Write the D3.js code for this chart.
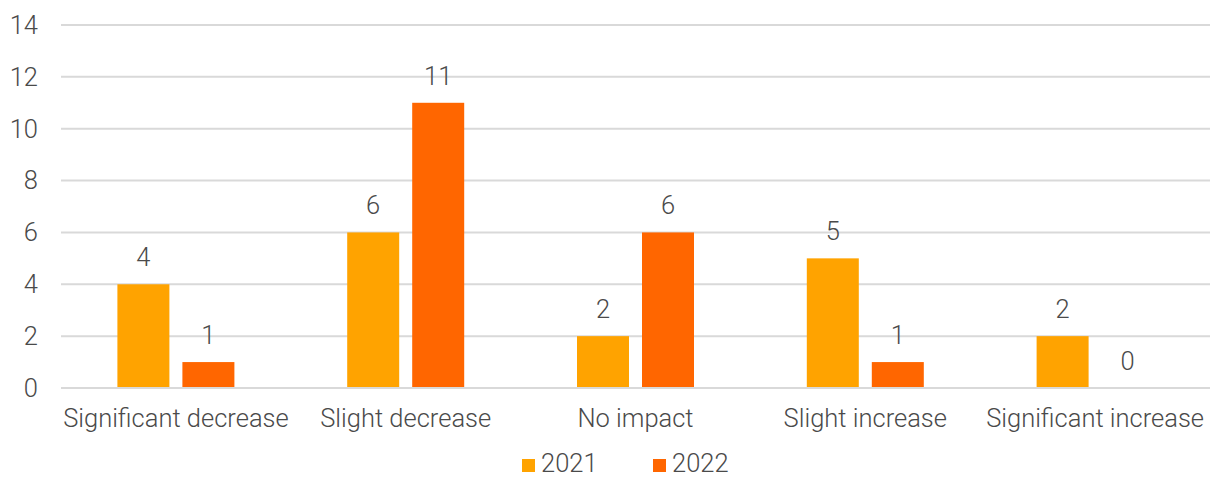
<!DOCTYPE html>
<html><head><meta charset="utf-8">
<script src="https://cdn.jsdelivr.net/npm/d3@7"></script>
<style>
html,body{margin:0;padding:0;background:#fff;}
svg text{font-family:"Roboto",sans-serif;font-weight:300;fill:#4a4a4a;}
</style></head>
<body><svg id="c" width="1210" height="478"></svg>
<script>
const categories = ["Significant decrease","Slight decrease","No impact","Slight increase","Significant increase"];
const seriesNames = ["2021","2022"];
const values2021 = [4,6,2,5,2];
const values2022 = [1,11,6,1,0];
const yTicks = [0,2,4,6,8,10,12,14];
const colors = ["#FFA300","#FF6600"];

const svg = d3.select("#c");
const FS = 25.5;
const y = d3.scaleLinear().domain([0,14]).range([388,25]);
const x0 = d3.scaleBand().domain(categories).range([61,1210]);
const x1 = d3.scaleBand().domain(seriesNames).range([0,117]).paddingInner(0.2);
const data = categories.map((c,i)=>({c, v:[values2021[i], values2022[i]]}));

// gridlines
svg.append("g").selectAll("line").data(yTicks).join("line")
  .attr("x1",61).attr("x2",1210).attr("y1",d=>y(d)).attr("y2",d=>y(d))
  .attr("stroke","#d9d9d9").attr("stroke-width",2);
// y axis labels
svg.append("g").selectAll("text").data(yTicks).join("text")
  .attr("x",38).attr("y",d=>y(d)).attr("dy","0.35em").attr("text-anchor","end")
  .attr("font-size",FS).text(d=>d);

const g = svg.append("g").selectAll("g").data(data).join("g")
  .attr("transform",d=>`translate(${x0(d.c)+x0.bandwidth()/2-58.5},0)`);
g.selectAll("rect").data(d=>d.v.map((v,j)=>({s:seriesNames[j],v,j}))).join("rect")
  .attr("x",d=>x1(d.s)).attr("width",x1.bandwidth())
  .attr("y",d=>y(d.v)).attr("height",d=>Math.max(0,y(0)-y(d.v)-1))
  .attr("fill",d=>colors[d.j]);
g.selectAll("text").data(d=>d.v.map((v,j)=>({s:seriesNames[j],v,j}))).join("text")
  .attr("x",d=>x1(d.s)+x1.bandwidth()/2).attr("y",d=>y(d.v)-18)
  .attr("text-anchor","middle").attr("font-size",FS).text(d=>d.v);

// x labels
svg.append("g").selectAll("text").data(categories).join("text")
  .attr("x",d=>x0(d)+x0.bandwidth()/2).attr("y",427)
  .attr("text-anchor","middle").attr("font-size",FS).text(d=>d);

// legend
const lx = [522,653];
const lg = svg.append("g").selectAll("g").data(seriesNames).join("g")
  .attr("transform",(d,i)=>`translate(${lx[i]},0)`);
lg.append("rect").attr("x",0).attr("y",459).attr("width",13).attr("height",13).attr("fill",(d,i)=>colors[i]);
lg.append("text").attr("x",19).attr("y",472).attr("font-size",FS).text(d=>d);
</script></body></html>
